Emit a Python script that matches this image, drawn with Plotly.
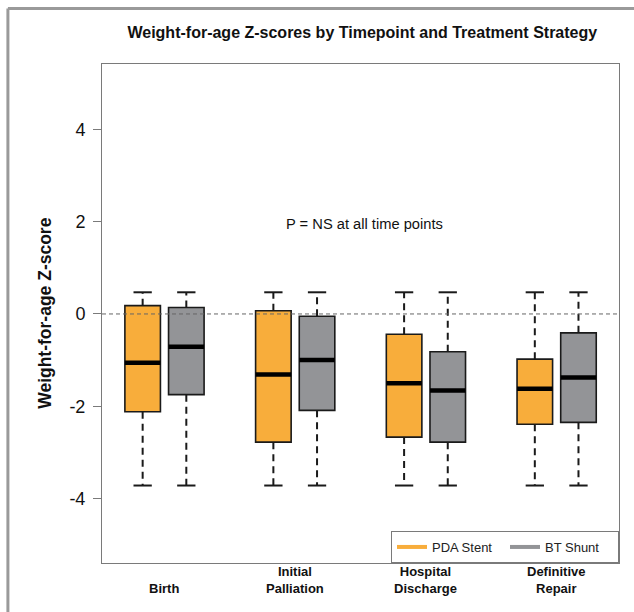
import plotly.graph_objects as go

# Timepoints along the x axis
timepoints = ["Birth", "Initial<br>Palliation", "Hospital<br>Discharge", "Definitive<br>Repair"]
positions = [1, 2, 3, 4]

# Y axis ticks
y_ticks = [-4, -2, 0, 2, 4]
y_tick_labels = ["-4", "-2", "0", "2", "4"]

# Box summary statistics (weight-for-age Z-scores)
pda_q1 = [-2.12, -2.78, -2.67, -2.39]
pda_median = [-1.06, -1.31, -1.50, -1.62]
pda_q3 = [0.18, 0.07, -0.44, -0.98]
pda_low = [-3.72, -3.72, -3.72, -3.72]
pda_high = [0.47, 0.47, 0.47, 0.47]

bt_q1 = [-1.75, -2.09, -2.78, -2.35]
bt_median = [-0.71, -1.00, -1.66, -1.38]
bt_q3 = [0.14, -0.05, -0.82, -0.41]
bt_low = [-3.72, -3.72, -3.72, -3.72]
bt_high = [0.47, 0.47, 0.47, 0.47]

ORANGE = "#F8AD3B"
GREY = "#939497"
FONT = "Liberation Sans, Arial, sans-serif"

OFFSET = 0.167   # horizontal shift of each strategy from the timepoint
HALF = 0.136     # half box width
CAP = 0.07       # half staple width

fig = go.Figure()


def add_series(name, color, shift, q1, med, q3, lo, hi):
    xs = [p + shift for p in positions]
    # box bodies
    fig.add_trace(go.Bar(
        x=xs, y=[b - a for a, b in zip(q1, q3)], base=q1, width=2 * HALF,
        marker=dict(color=color, line=dict(color="#1a1a1a", width=1.6)),
        showlegend=False, hoverinfo="skip",
    ))
    # dashed whiskers
    wx, wy = [], []
    for x, a, b, l, h in zip(xs, q1, q3, lo, hi):
        wx += [x, x, None, x, x, None]
        wy += [b, h, None, a, l, None]
    fig.add_trace(go.Scatter(
        x=wx, y=wy, mode="lines",
        line=dict(color="#1a1a1a", width=2, dash="7px,5px"),
        showlegend=False, hoverinfo="skip",
    ))
    # staples
    sx, sy = [], []
    for x, l, h in zip(xs, lo, hi):
        sx += [x - CAP, x + CAP, None, x - CAP, x + CAP, None]
        sy += [h, h, None, l, l, None]
    fig.add_trace(go.Scatter(
        x=sx, y=sy, mode="lines", line=dict(color="#1a1a1a", width=2),
        showlegend=False, hoverinfo="skip",
    ))
    # medians
    mx, my = [], []
    for x, m in zip(xs, med):
        mx += [x - HALF, x + HALF, None]
        my += [m, m, None]
    fig.add_trace(go.Scatter(
        x=mx, y=my, mode="lines", line=dict(color="#000000", width=4.5),
        showlegend=False, hoverinfo="skip",
    ))
    # legend key
    fig.add_trace(go.Scatter(
        x=[None], y=[None], mode="lines", name=name,
        line=dict(color=color, width=4),
    ))


add_series("PDA Stent", ORANGE, -OFFSET, pda_q1, pda_median, pda_q3, pda_low, pda_high)
add_series("BT Shunt", GREY, OFFSET, bt_q1, bt_median, bt_q3, bt_low, bt_high)

# reference line at zero
fig.add_shape(type="line", xref="paper", x0=0, x1=1, yref="y", y0=0, y1=0,
              line=dict(color="#666666", width=1, dash="4px,3px"), layer="above")

# outer frame (top and left edges)
fig.add_shape(type="line", xref="paper", yref="paper", x0=-0.182, x1=1.1, y0=1.111, y1=1.111,
              line=dict(color="#9a9a9a", width=3))
fig.add_shape(type="line", xref="paper", yref="paper", x0=-0.182, x1=-0.182, y0=1.111, y1=-0.2,
              line=dict(color="#9a9a9a", width=3))

# timepoint labels under the axis
for p, t in zip(positions, timepoints):
    fig.add_annotation(x=p, xref="x", y=0, yref="paper", yanchor="bottom", yshift=-35,
                       text=t, showarrow=False,
                       font=dict(family=FONT, size=13, color="#111111", weight="bold"))

fig.add_annotation(x=0.507, xref="paper", y=1.95, yref="y", text="P = NS at all time points",
                   showarrow=False, font=dict(family=FONT, size=14.7, color="#111111"))

fig.add_annotation(x=-0.1348, xref="paper", y=0.5, yref="paper", textangle=-90,
                   text="Weight-for-age Z-score", showarrow=False,
                   font=dict(family=FONT, size=17.5, color="#111111", weight="bold"))

fig.update_layout(
    width=634, height=612,
    margin=dict(l=102, r=15, t=64, b=49),
    paper_bgcolor="white", plot_bgcolor="white",
    barmode="overlay",
    title=dict(text="Weight-for-age Z-scores by Timepoint and Treatment Strategy",
               xref="paper", x=0.5035, xanchor="center",
               yref="container", y=1 - 32 / 612, yanchor="middle",
               font=dict(family=FONT, size=16, color="#111111", weight="bold")),
    font=dict(family=FONT, color="#111111"),
    xaxis=dict(range=[0.522, 4.477], showticklabels=False, ticks="", showgrid=False,
               zeroline=False, showline=True, mirror=True, linecolor="#7a7a7a", linewidth=1),
    yaxis=dict(range=[-5.4, 5.42], tickvals=y_ticks, ticktext=y_tick_labels,
               ticks="outside", ticklen=8, ticklabelstandoff=4,
               tickcolor="#7a7a7a", tickfont=dict(family=FONT, size=18, color="#111111"),
               showgrid=False, zeroline=False, showline=True, mirror=True,
               linecolor="#7a7a7a", linewidth=1),
    legend=dict(x=1, xanchor="right", y=0, yanchor="bottom", orientation="h",
                entrywidth=68, bordercolor="#7a7a7a", borderwidth=1, bgcolor="white",
                font=dict(family=FONT, size=13, color="#222222")),
)

fig.write_html("out.html")
